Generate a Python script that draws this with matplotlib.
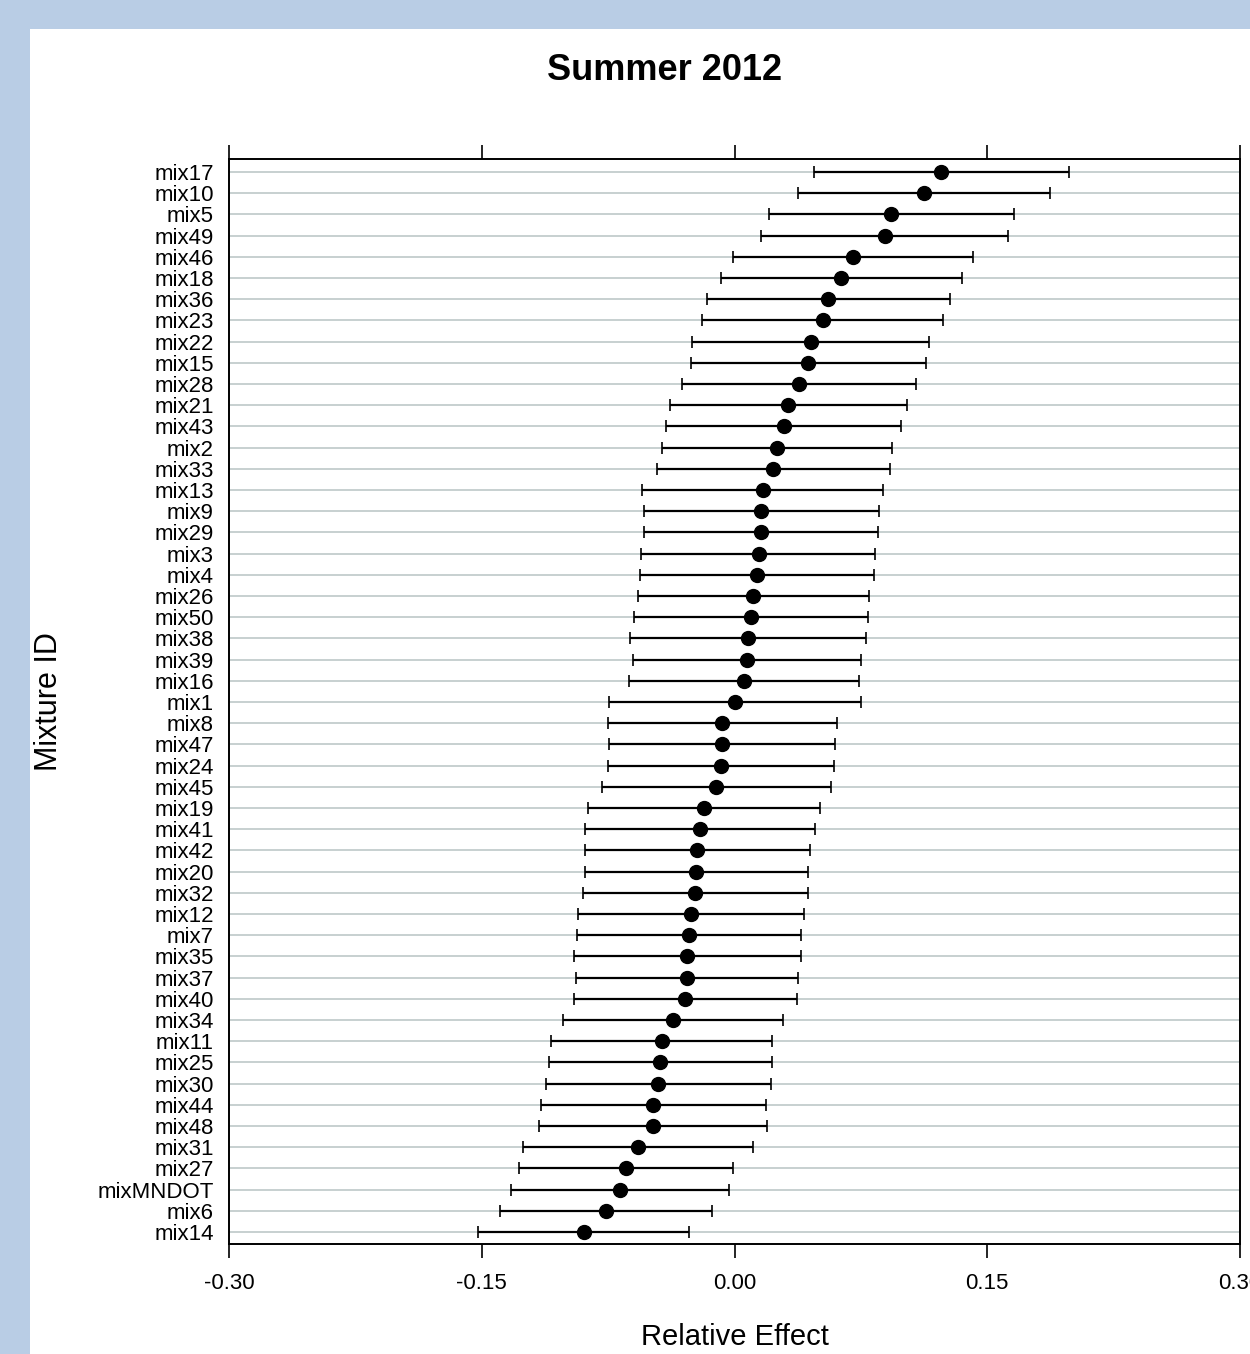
import numpy as np
import matplotlib
matplotlib.use('Agg')
import matplotlib.pyplot as plt
from matplotlib.patches import Rectangle

plt.rcParams['font.family'] = ['Liberation Sans', 'DejaVu Sans']

# 数据（从上到下）
mixtures = ['mix17', 'mix10', 'mix5', 'mix49', 'mix46', 'mix18', 'mix36', 'mix23', 'mix22',
            'mix15', 'mix28', 'mix21', 'mix43', 'mix2', 'mix33', 'mix13', 'mix9', 'mix29',
            'mix3', 'mix4', 'mix26', 'mix50', 'mix38', 'mix39', 'mix16', 'mix1', 'mix8',
            'mix47', 'mix24', 'mix45', 'mix19', 'mix41', 'mix42', 'mix20', 'mix32', 'mix12',
            'mix7', 'mix35', 'mix37', 'mix40', 'mix34', 'mix11', 'mix25', 'mix30', 'mix44',
            'mix48', 'mix31', 'mix27', 'mixMNDOT', 'mix6', 'mix14']

effect = [0.1227, 0.1124, 0.0929, 0.0892, 0.0706, 0.0634, 0.0556, 0.0523, 0.0453,
          0.0437, 0.0383, 0.0317, 0.0293, 0.0253, 0.0230, 0.0167, 0.0160, 0.0157,
          0.0143, 0.0134, 0.0108, 0.0099, 0.0080, 0.0075, 0.0056, 0.0000, -0.0073,
          -0.0075, -0.0082, -0.0108, -0.0183, -0.0207, -0.0221, -0.0228, -0.0232, -0.0261,
          -0.0270, -0.0282, -0.0284, -0.0291, -0.0366, -0.0432, -0.0441, -0.0453, -0.0481,
          -0.0486, -0.0570, -0.0643, -0.0678, -0.0763, -0.0896]

lower = [0.0474, 0.0375, 0.0202, 0.0160, -0.0007, -0.0080, -0.0162, -0.0192, -0.0253,
         -0.0260, -0.0312, -0.0385, -0.0404, -0.0432, -0.0462, -0.0547, -0.0537, -0.0537,
         -0.0552, -0.0559, -0.0570, -0.0594, -0.0622, -0.0601, -0.0627, -0.0744, -0.0753,
         -0.0744, -0.0749, -0.0786, -0.0871, -0.0885, -0.0885, -0.0885, -0.0897, -0.0929,
         -0.0934, -0.0953, -0.0943, -0.0953, -0.1019, -0.1087, -0.1103, -0.1119, -0.1148,
         -0.1162, -0.1253, -0.1279, -0.1324, -0.1392, -0.1523]

upper = [0.1983, 0.1873, 0.1659, 0.1624, 0.1418, 0.1352, 0.1281, 0.1237, 0.1157,
         0.1136, 0.1080, 0.1021, 0.0988, 0.0936, 0.0925, 0.0882, 0.0857, 0.0852,
         0.0833, 0.0826, 0.0796, 0.0791, 0.0781, 0.0753, 0.0739, 0.0749, 0.0608,
         0.0596, 0.0589, 0.0575, 0.0507, 0.0476, 0.0448, 0.0437, 0.0434, 0.0411,
         0.0397, 0.0392, 0.0375, 0.0368, 0.0289, 0.0225, 0.0223, 0.0216, 0.0188,
         0.0195, 0.0108, -0.0009, -0.0033, -0.0134, -0.0268]

xticks = [-0.30, -0.15, 0.00, 0.15, 0.30]

W, H = 1250, 1354
fig = plt.figure(figsize=(W / 100, H / 100), dpi=100)
fig.patch.set_facecolor('#b9cde5')
fig.patches.append(Rectangle((30 / W, 0), 1, 1 - 29 / H, transform=fig.transFigure,
                             facecolor='white', edgecolor='none', zorder=-10))

ax = fig.add_axes([229 / W, 1 - 1244 / H, (1240 - 229) / W, (1244 - 159) / H])
ax.set_zorder(1)

y = np.arange(len(mixtures))
eff = np.array(effect)
err = np.vstack([eff - np.array(lower), np.array(upper) - eff])

for yi in y:
    ax.axhline(yi, color='#c3cdcd', lw=1.3, zorder=1)

ax.errorbar(eff, y, xerr=err, fmt='o', color='black', ecolor='black',
            markersize=10, elinewidth=1.6, capsize=4, capthick=1.2, zorder=3)

ax.set_xlim(-0.30, 0.30)
ax.set_ylim(len(mixtures) - 1 + 0.57, -0.61)
ax.set_xticks(xticks)
ax.set_xticklabels(['%.2f' % v for v in xticks])
ax.set_yticks(y)
ax.set_yticklabels(mixtures)

ax.tick_params(axis='x', which='both', top=True, bottom=True, direction='out',
               length=10, width=1.2, labelsize=16, pad=11, colors='black')
ax.tick_params(axis='y', length=0, labelsize=16, pad=11)
for sp in ax.spines.values():
    sp.set_linewidth(1.4)
    sp.set_color('black')

ax.set_xlabel('Relative Effect', fontsize=21, labelpad=21)
ax.set_ylabel('Mixture ID', fontsize=22, labelpad=24)
fig.text(665 / W, 1 - 70 / H, 'Summer 2012', fontsize=26, fontweight='bold',
         ha='center', va='center')

fig.savefig('out.png', dpi=100, facecolor=fig.get_facecolor())
